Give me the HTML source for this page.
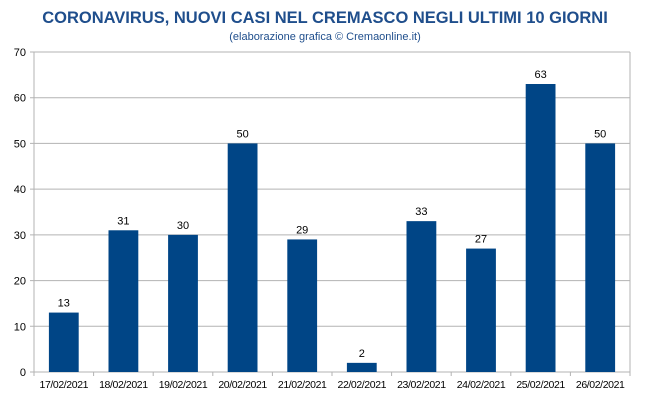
<!DOCTYPE html>
<html><head><meta charset="utf-8"><style>
body{margin:0;background:#fff;}
svg{display:block;font-family:"Liberation Sans",sans-serif;}
</style></head><body>
<svg id="chart" width="650" height="400">
<text x="325" y="23" text-anchor="middle" font-size="16.5" font-weight="bold" fill="#1f4e8c">CORONAVIRUS, NUOVI CASI NEL CREMASCO NEGLI ULTIMI 10 GIORNI</text>
<text x="325" y="40" text-anchor="middle" font-size="11" fill="#1f4e8c">(elaborazione grafica © Cremaonline.it)</text>
<g id="grid"></g><g id="bars"></g><g id="axes"></g>
</svg>
<script>
const categories=["17/02/2021","18/02/2021","19/02/2021","20/02/2021","21/02/2021","22/02/2021","23/02/2021","24/02/2021","25/02/2021","26/02/2021"];
const values=[13,31,30,50,29,2,33,27,63,50];
const yTicks=[0,10,20,30,40,50,60,70];
const NS="http://www.w3.org/2000/svg";
const L=34,R=630,T=52,B=372,yMax=70;
const y=v=>B-(v/yMax)*(B-T);
const band=(R-L)/categories.length;
const x=i=>L+band*i;
function mk(tag,attrs,parent){const e=document.createElementNS(NS,tag);for(const k in attrs)e.setAttribute(k,attrs[k]);parent.appendChild(e);return e;}
const grid=document.getElementById('grid'),bars=document.getElementById('bars'),axes=document.getElementById('axes');
yTicks.forEach(t=>{
 const ln=mk('line',{x1:L-4,x2:R,y1:y(t),y2:y(t),stroke:'#b3b3b3','stroke-width':1},grid);
 
 
 const tx=mk('text',{x:L-8,y:y(t)+4,'text-anchor':'end','font-size':11,fill:'#000'},axes);
 tx.textContent=t;
 
 
});
mk('line',{x1:R,x2:R,y1:T,y2:B,stroke:'#b3b3b3'},grid);
mk('line',{x1:L,x2:L,y1:T,y2:B+4,stroke:'#b3b3b3'},axes);
categories.forEach((c,i)=>{
 const cx=x(i)+band/2,w=band*0.5;
 const r=mk('rect',{x:cx-w/2,y:y(values[i]),width:w,height:B-y(values[i]),fill:'#004586'},bars);
 
 
 const v=mk('text',{x:cx,y:y(values[i])-6,'text-anchor':'middle','font-size':11,fill:'#000'},bars);
 v.textContent=values[i];
 
 
 const tl=mk('text',{x:cx,y:B+16,'text-anchor':'middle','font-size':10.5,fill:'#000','letter-spacing':'-0.4'},axes);
 tl.textContent=c;
 
 
 mk('line',{x1:x(i+1),x2:x(i+1),y1:B,y2:B+4,stroke:'#b3b3b3'},axes);
});
</script>
</body></html>
